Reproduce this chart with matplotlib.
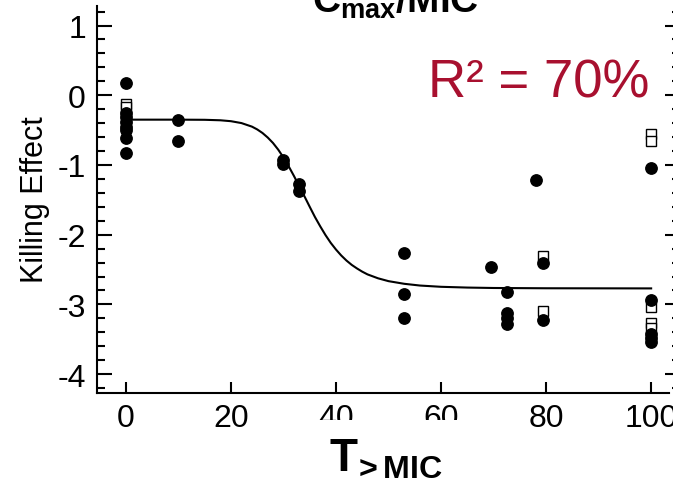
#Grafica del efecto de muerte frente a T>MIC con la curva ajustada
import matplotlib
matplotlib.use('Agg')
from matplotlib import pyplot as plt
from matplotlib.ticker import MultipleLocator

#Fuentes tipo Arial
plt.rcParams['font.family'] = 'Liberation Sans'
plt.rcParams['mathtext.fontset'] = 'custom'
plt.rcParams['mathtext.rm'] = 'Liberation Sans'
plt.rcParams['mathtext.bf'] = 'Liberation Sans:bold'
plt.rcParams['mathtext.it'] = 'Liberation Sans:italic'
plt.rcParams['axes.unicode_minus'] = False

#Datos: circulos rellenos
puntos_x = [0, 0, 0, 0, 0, 0, 0, 0,
            10, 10,
            30, 30,
            33, 33,
            53, 53, 53,
            69.5,
            72.5, 72.5, 72.5, 72.5,
            78,
            79.5, 79.5,
            100, 100, 100, 100, 100]
puntos_y = [0.18, -0.25, -0.31, -0.38, -0.45, -0.50, -0.62, -0.83,
            -0.35, -0.65,
            -0.93, -0.99,
            -1.27, -1.38,
            -2.26, -2.85, -3.19,
            -2.46,
            -2.82, -3.12, -3.20, -3.28,
            -1.22,
            -2.41, -3.23,
            -1.05, -2.93, -3.42, -3.48, -3.54]

#Datos: cuadrados abiertos
cuad_x = [0, 0, 79.5, 79.5, 100, 100, 100, 100, 100]
cuad_y = [-0.12, -0.17, -2.31, -3.10, -0.56, -0.66, -3.03, -3.27, -3.34]

#Curva ajustada, leida punto a punto
curva_x = [0, 10, 15, 18, 20, 22, 24, 25, 26, 27, 28, 29, 30, 31, 32, 33, 34, 35, 36, 37, 38, 39, 40,
           41, 42, 43, 44, 45, 46, 48, 50, 53, 56, 60, 65, 70, 80, 90, 100]
curva_y = [-0.35, -0.35, -0.352, -0.359, -0.372, -0.399, -0.450, -0.490, -0.541, -0.606, -0.684, -0.780,
           -0.892, -1.020, -1.158, -1.305, -1.450, -1.600, -1.747, -1.880, -2.005, -2.117, -2.213,
           -2.298, -2.371, -2.433, -2.484, -2.530, -2.569, -2.625, -2.666, -2.704, -2.729, -2.747,
           -2.758, -2.764, -2.768, -2.769, -2.770]

W, H = 673, 489
fig = plt.figure(figsize=(W/100, H/100), dpi=100)
ax = fig.add_axes([97/W, 1-394/H, (669-97)/W, (394-7)/H])

ax.plot(curva_x, curva_y, color='black', lw=1.5, zorder=2)
ax.plot(cuad_x, cuad_y, ls='none', marker='s', ms=7.5, mfc='white', mec='black', mew=1, zorder=3)
ax.plot(puntos_x, puntos_y, ls='none', marker='o', ms=8.2, color='black', zorder=4)

ax.set_xlim(-5.5, 103.4)
ax.set_ylim(-4.27, 1.28)

#Ejes y marcas
ax.spines['top'].set_visible(False)
ax.spines['right'].set_visible(False)
ax.spines['left'].set_linewidth(1.5)
ax.spines['bottom'].set_linewidth(1.5)
ax.xaxis.set_major_locator(MultipleLocator(20))
ax.yaxis.set_major_locator(MultipleLocator(1))
ax.yaxis.set_minor_locator(MultipleLocator(0.2))
ax.tick_params(axis='x', which='major', direction='in', length=8, width=1.5, labelsize=23, pad=7)
ax.tick_params(axis='y', which='major', direction='in', length=11, width=1.5, labelsize=23, pad=8)
ax.tick_params(axis='y', which='minor', direction='in', length=5.5, width=1.5)

#Eje derecho solo con marcas
ax2 = ax.twinx()
ax2.set_ylim(ax.get_ylim())
for s in ['top', 'left', 'bottom']:
    ax2.spines[s].set_visible(False)
ax2.spines['right'].set_position(('outward', 5))
ax2.spines['right'].set_linewidth(1.5)
ax2.yaxis.set_major_locator(MultipleLocator(1))
ax2.yaxis.set_minor_locator(MultipleLocator(0.2))
ax2.tick_params(axis='y', which='major', direction='in', length=8, width=1.5, labelright=False)
ax2.tick_params(axis='y', which='minor', direction='in', length=3, width=1.5)

#Textos (la etiqueta del eje x lleva fondo blanco)
ax.set_xlabel(r'$\enspace\mathbf{T}_{\!\mathbf{>MIC}}\enspace$', fontsize=33,
              bbox=dict(facecolor='white', edgecolor='none', boxstyle='square,pad=0.35'))
ax.xaxis.set_label_coords(0.488, -0.112)
fig.text(35/W, 1-200/H, 'Killing Effect', rotation=90, ha='center', va='center', fontsize=22)
fig.text(395/W, 1-13/H, r'$\mathbf{C_{max}/MIC}$', ha='center', va='baseline', fontsize=28)
fig.text(428/W, 1-97/H, 'R² = 70%', color='#A8102F', fontsize=38, va='baseline')

fig.savefig('out.png', dpi=100)
